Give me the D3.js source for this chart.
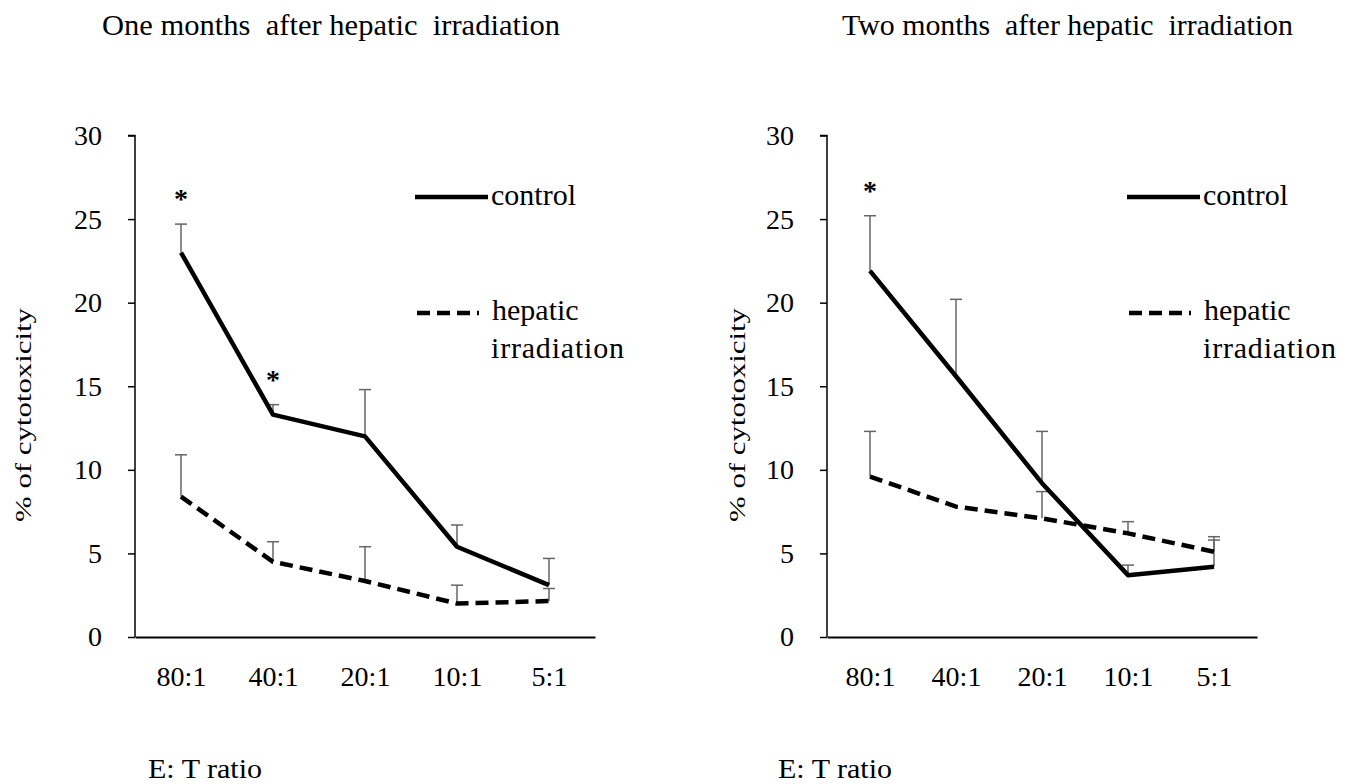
<!doctype html>
<html>
<head>
<meta charset="utf-8"/>
<style>
  body { margin: 0; background: #fff; }
  text { font-family: "Liberation Serif", "DejaVu Serif", serif; fill: #000; }
</style>
</head>
<body>
<script src="https://cdn.jsdelivr.net/npm/d3@7"></script>
<script>
const ratios = ['80:1', '40:1', '20:1', '10:1', '5:1'];
const yTicks = [0, 5, 10, 15, 20, 25, 30];

// one month
const ctrl1 = [23.0, 13.3, 12.0, 5.4, 3.1];
const ctrl1Err = [1.7, 0.6, 2.8, 1.3, 1.6];
const irr1 = [8.4, 4.5, 3.35, 2.0, 2.15];
const irr1Err = [2.5, 1.2, 2.05, 1.1, 0.75];
const stars1 = ['80:1', '40:1'];

// two months
const ctrl2 = [21.9, 15.6, 9.2, 3.7, 4.2];
const ctrl2Err = [3.3, 4.6, 3.1, 0.6, 1.6];
const irr2 = [9.6, 7.8, 7.1, 6.2, 5.1];
const irr2Err = [2.7, 0, 1.6, 0.7, 0.9];
const stars2 = ['80:1'];

const panels = [
  { title: 'One months  after hepatic  irradiation', ctrl: ctrl1, ctrlErr: ctrl1Err, irr: irr1, irrErr: irr1Err, stars: stars1,
    x0: 135, x1: 595, titleX: 102, titleW: 458, legX: 415, yLabX: 23, xLabX: 148 },
  { title: 'Two months  after hepatic  irradiation', ctrl: ctrl2, ctrlErr: ctrl2Err, irr: irr2, irrErr: irr2Err, stars: stars2,
    x0: 827, x1: 1257, titleX: 842, titleW: 451, legX: 1127, yLabX: 737, xLabX: 778 }
];

const svg = d3.select('body').append('svg')
  .attr('width', 1353).attr('height', 784);

const y = d3.scaleLinear().domain([0, 30]).range([637, 135.5]);

panels.forEach(p => {
  const g = svg.append('g');
  const x = d3.scalePoint().domain(ratios).range([p.x0, p.x1]).padding(0.5);

  g.append('text')
    .attr('x', p.titleX).attr('y', 35)
    .attr('textLength', p.titleW).attr('lengthAdjust', 'spacingAndGlyphs')
    .style('font-size', '29px').style('white-space', 'pre')
    .text(p.title);

  // y axis
  const ya = g.append('g')
    .attr('transform', `translate(${p.x0},0)`)
    .call(d3.axisLeft(y).tickValues(yTicks).tickSize(7).tickPadding(26));
  ya.select('.domain').attr('stroke', '#000').attr('stroke-width', 1.5).attr('d', `M-7,${y(30)}H0V${y(0)}`);
  ya.selectAll('.tick line').attr('stroke', '#000').attr('stroke-width', 1.5);
  ya.selectAll('.tick text').style('font-size', '28px').attr('fill', '#000')
    .style('font-family', '"Liberation Serif", serif');

  // x axis
  const xa = g.append('g')
    .attr('transform', `translate(0,${y(0)})`)
    .call(d3.axisBottom(x).tickSize(0).tickPadding(29));
  xa.select('.domain').attr('stroke', '#000').attr('stroke-width', 2);
  xa.selectAll('.tick text').style('font-size', '28px').attr('fill', '#000')
    .style('font-family', '"Liberation Serif", serif');

  // axis titles
  g.append('text')
    .attr('transform', `translate(${p.yLabX + 8},415) rotate(-90)`)
    .attr('text-anchor', 'middle')
    .attr('textLength', 214).attr('lengthAdjust', 'spacingAndGlyphs')
    .style('font-size', '24px')
    .text('% of cytotoxicity');
  g.append('text')
    .attr('x', p.xLabX).attr('y', 778)
    .attr('textLength', 114).attr('lengthAdjust', 'spacingAndGlyphs')
    .style('font-size', '28px')
    .text('E: T ratio');

  // error bars (upper only)
  const errs = [[p.ctrl, p.ctrlErr], [p.irr, p.irrErr]];
  errs.forEach(([vals, e]) => {
    const eg = g.append('g').selectAll('g').data(ratios.map((r, i) => ({ r, v: vals[i], e: e[i] })).filter(d => d.e > 0))
      .join('g').attr('stroke', '#666').attr('stroke-width', 1.5);
    eg.append('line')
      .attr('x1', d => x(d.r)).attr('x2', d => x(d.r))
      .attr('y1', d => y(d.v)).attr('y2', d => y(d.v + d.e));
    eg.append('line')
      .attr('x1', d => x(d.r) - 6).attr('x2', d => x(d.r) + 6)
      .attr('y1', d => y(d.v + d.e)).attr('y2', d => y(d.v + d.e));
  });

  const line = d3.line().x((d, i) => x(ratios[i])).y(d => y(d));

  g.append('path').datum(p.irr)
    .attr('d', line).attr('fill', 'none').attr('stroke', '#000')
    .attr('stroke-width', 4.5).attr('stroke-dasharray', '13,7');
  g.append('path').datum(p.ctrl)
    .attr('d', line).attr('fill', 'none').attr('stroke', '#000')
    .attr('stroke-width', 4.5).attr('stroke-linejoin', 'round');

  // significance stars
  g.selectAll('.star').data(p.stars).join('text')
    .attr('class', 'star')
    .attr('x', d => x(d)).attr('y', d => {
      const i = ratios.indexOf(d);
      return y(p.ctrl[i] + p.ctrlErr[i]) - 16;
    })
    .attr('text-anchor', 'middle')
    .style('font-size', '28px').style('font-weight', 'bold')
    .text('*');

  // legend
  const lg = g.append('g').attr('transform', `translate(${p.legX},0)`);
  lg.append('line').attr('x1', 0).attr('x2', 73).attr('y1', 197).attr('y2', 197)
    .attr('stroke', '#000').attr('stroke-width', 4.5);
  lg.append('text').attr('x', 76).attr('y', 205).style('font-size', '30px').text('control');
  lg.append('line').attr('x1', 2).attr('x2', 64).attr('y1', 313).attr('y2', 313)
    .attr('stroke', '#000').attr('stroke-width', 4.5).attr('stroke-dasharray', '13,7');
  lg.append('text').attr('x', 77).attr('y', 320).style('font-size', '30px').text('hepatic');
  lg.append('text').attr('x', 76).attr('y', 358)
    .attr('textLength', 133).attr('lengthAdjust', 'spacing')
    .style('font-size', '30px').text('irradiation');
});
</script>
</body>
</html>
